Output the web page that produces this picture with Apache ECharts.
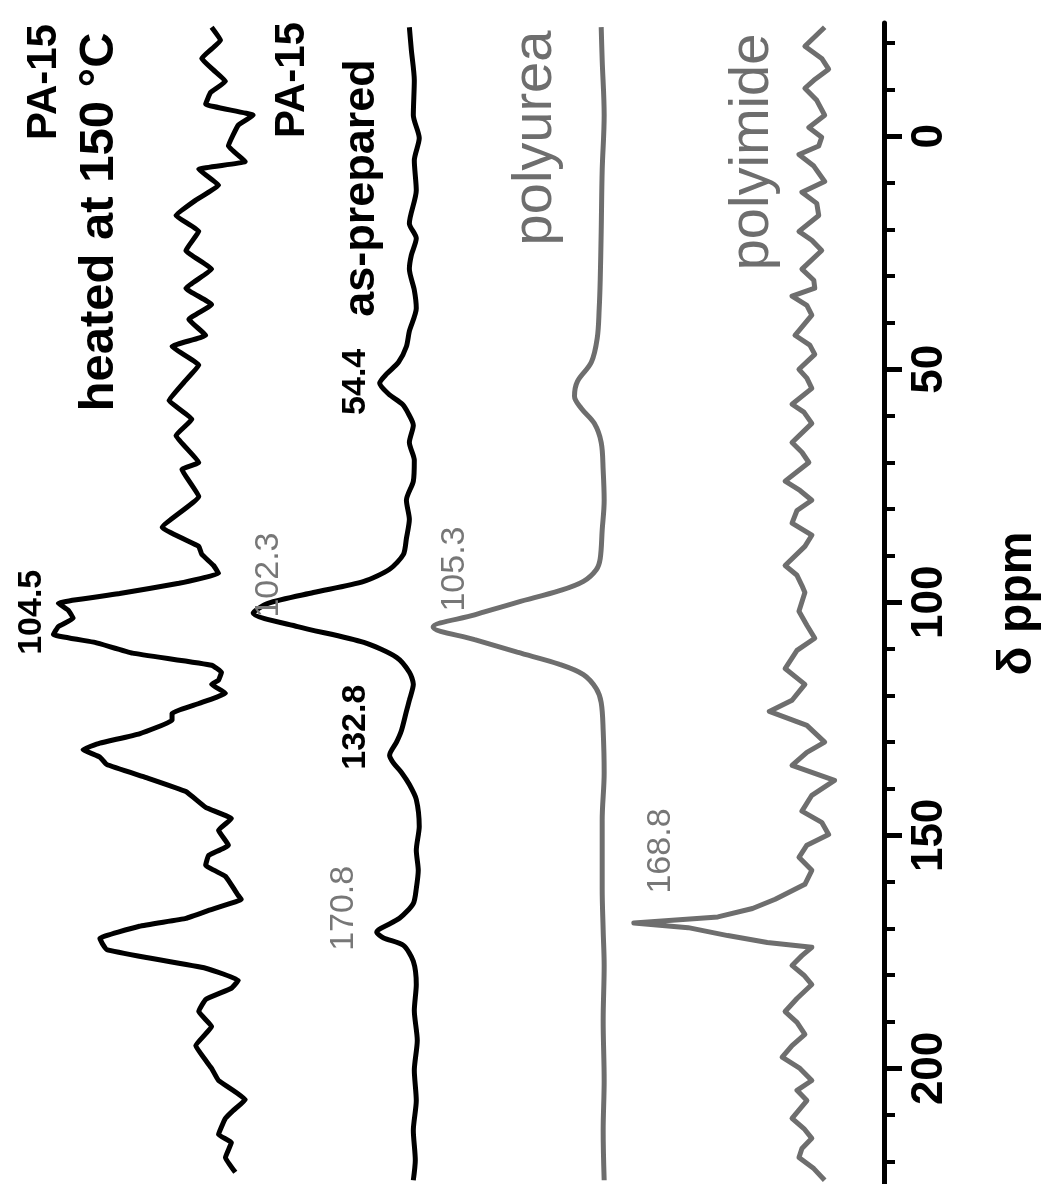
<!DOCTYPE html>
<html>
<head>
<meta charset="utf-8">
<script src="https://cdn.jsdelivr.net/npm/echarts@6/dist/echarts.min.js"></script>
<style>
  html, body { margin: 0; padding: 0; background: #fff; }
  #chart { width: 1050px; height: 1184px; }
</style>
</head>
<body>
<div id="chart"></div>
<script>
// ---- axis ----
const ppmMin = -24.3;
const ppmMax = 224.8;
const majorTicks = [0, 50, 100, 150, 200];
const minorTicks = [-20, -10, 10, 20, 30, 40, 60, 70, 80, 90, 110, 120, 130, 140, 160, 170, 180, 190, 210, 220];
const axisTitle = 'δ ppm';

// ---- trace labels ----
const traceNames = ['PA-15 heated at 150 °C', 'PA-15 as-prepared', 'polyurea', 'polyimide'];

// ---- vertical offsets (stacking) ----
const offsetHeated = 66.8;
const offsetPrepared = 47.7;
const offsetPolyurea = 28.6;
const offsetPolyimide = 7.8;

// ---- spectra: [ppm, intensity] ----
const heated = [[-23.4,1.2],[-20.6,0.3],[-16.7,2.2],[-14.2,1.0],[-11.8,-0.2],[-9.4,1.3],[-6.9,1.8],[-4.5,-3.0],[-2.4,-1.5],[2.1,-0.5],[5.4,-2.2],[7.1,2.5],[10.5,0.5],[13.7,2.8],[17.0,4.8],[20.4,2.5],[24.5,3.8],[28.5,1.2],[32.6,3.8],[36.1,1.2],[39.3,3.5],[42.7,1.8],[45.1,5.2],[49.1,2.5],[52.8,4.0],[56.7,5.5],[60.7,3.2],[64.2,4.8],[70.0,2.5],[71.5,4.2],[77.3,2.5],[83.9,6.2],[88.0,2.5],[89.7,2.2],[92.1,1.0],[93.8,0.5],[95.9,4.5],[98.1,10.5],[100.2,16.7],[101.7,15.7],[103.4,15.2],[105.2,16.7],[106.9,17.2],[108.6,13.0],[110.9,9.2],[113.5,1.2],[115.0,0.2],[116.7,0.5],[117.6,1.2],[119.5,-0.2],[121.7,2.5],[123.8,5.2],[125.3,5.2],[128.2,8.5],[130.2,12.5],[131.6,14.2],[133.2,12.5],[134.8,11.8],[137.6,7.8],[140.6,3.8],[144.0,1.8],[146.4,-0.8],[148.9,0.5],[152.1,-0.5],[154.3,1.5],[156.4,1.8],[158.8,-0.2],[162.9,-1.5],[163.7,-1.8],[166.1,1.5],[167.8,3.8],[169.5,8.5],[172.1,12.5],[173.4,12.2],[174.5,11.8],[176.2,7.8],[178.5,1.8],[181.1,-1.5],[182.8,-0.8],[185.2,1.8],[187.8,2.5],[191.0,1.2],[195.1,2.8],[200.0,1.2],[202.6,0.5],[206.7,-2.2],[209.0,-1.0],[210.7,-0.2],[214.2,0.5],[215.9,-0.8],[219.1,-0.2],[222.3,-1.2]];

const prepared = [[-23.4,0.3],[-18.5,0.1],[-12.0,-0.2],[-4.5,-0.1],[0.4,-0.7],[5.2,-0.2],[11.6,-0.4],[18.7,0.3],[21.9,-0.4],[25.5,0.1],[28.5,0.3],[33.0,-0.2],[36.9,-0.4],[41.8,0.3],[45.1,0.6],[48.5,1.4],[51.0,2.6],[53.0,3.3],[55.3,2.4],[57.5,1.0],[59.5,0.4],[62.0,-0.1],[65.7,0.3],[69.5,-0.2],[74.0,-0.1],[78.1,0.6],[82.2,0.3],[86.3,0.6],[89.7,0.9],[92.9,2.3],[95.5,4.9],[97.9,10.0],[100.2,14.6],[102.3,16.1],[105.2,11.6],[108.6,4.9],[111.8,1.6],[115.0,0.3],[117.6,-0.1],[121.0,0.3],[123.4,0.6],[127.5,1.1],[130.0,1.6],[132.8,2.3],[134.5,1.9],[136.5,1.1],[139.1,0.3],[142.3,-0.4],[148.1,-0.7],[153.2,-0.4],[157.5,-0.6],[161.4,-0.4],[164.6,-0.1],[167.8,1.3],[170.8,3.6],[172.0,2.9],[173.6,0.9],[177.0,-0.1],[182.0,-0.4],[187.6,-0.2],[194.0,-0.5],[200.4,-0.2],[206.9,-0.4],[213.3,-0.1],[219.7,-0.3],[224.0,-0.1]];

const polyurea = [[-23.4,0],[-16.3,-0.1],[-4.5,-0.3],[7.3,-0.1],[20.4,0],[30.9,0.1],[36.9,0.2],[43.3,0.4],[48.5,1.0],[52.6,2.4],[55.8,2.7],[58.4,2.0],[61.6,0.7],[65.7,0],[71.7,-0.2],[78.1,-0.3],[84.5,-0.1],[90.6,0.1],[93.0,0.5],[95.5,1.8],[97.5,4.2],[100.0,8.5],[102.7,12.8],[105.3,17.0],[108.0,12.8],[110.7,8.5],[113.3,4.2],[115.5,1.8],[118.5,0.5],[121.5,0],[127.5,-0.2],[136.5,-0.3],[146.8,-0.1],[161.4,-0.1],[170.4,-0.2],[177.9,-0.3],[189.7,-0.2],[202.6,-0.3],[213.3,-0.2],[224.0,-0.3]];

const polyimide = [[-23.4,-1.8],[-19.3,0.2],[-16.7,-1.5],[-14.4,-2.2],[-12.0,-0.7],[-10.3,0.2],[-7.7,-1.0],[-4.5,-1.8],[-1.9,-0.2],[0.2,-1.5],[2.1,-1.2],[3.9,0.8],[6.4,-0.7],[9.7,-1.8],[12.0,0.5],[14.4,-1.0],[17.0,-1.2],[20.4,0.8],[22.3,-0.5],[24.5,-1.5],[28.5,0.5],[30.9,-0.7],[32.6,-0.8],[34.3,1.5],[36.3,0.0],[38.4,-0.5],[42.7,1.2],[44.8,-0.3],[46.8,-0.8],[50.0,0.8],[51.9,0.0],[54.1,-0.5],[57.5,1.5],[59.2,0.3],[61.6,-0.5],[65.7,1.5],[67.8,0.5],[70.0,-0.2],[74.0,2.2],[76.0,0.7],[78.1,-0.5],[80.3,1.0],[83.0,1.5],[85.6,-0.5],[88.0,0.2],[92.1,2.2],[94.2,1.0],[96.4,0.5],[97.9,0.2],[101.9,0.8],[104.9,0.0],[107.7,-0.8],[110.3,1.0],[114.2,2.2],[117.6,0.2],[121.0,1.5],[123.4,3.8],[126.4,0.0],[130.0,-1.8],[132.2,0.0],[135.0,1.5],[138.2,-2.8],[141.4,-0.5],[144.8,0.5],[147.2,-1.5],[149.8,-2.2],[152.1,0.0],[154.7,0.8],[157.5,-0.5],[160.5,0.2],[163.7,3.2],[165.7,5.5],[167.5,9.0],[168.8,17.5],[169.8,12.0],[171.5,8.0],[173.0,4.0],[174.0,-0.5],[175.8,0.5],[177.9,1.5],[180.0,0.3],[182.0,-0.5],[185.0,1.0],[187.8,2.2],[190.1,1.0],[192.7,0.2],[195.1,1.5],[197.6,2.5],[200.0,0.7],[202.6,-0.5],[204.7,1.0],[206.9,0.0],[210.7,1.5],[212.9,0.3],[215.0,-0.5],[217.2,0.5],[219.1,0.8],[221.5,-0.7],[224.0,-1.8]];

// ---- peak annotations: text, offset, peak intensity, ppm, dx, dy, colour, weight ----
const peakLabels = [
  ['104.5', offsetHeated, 17.2, 104.5, -22, -11, '#000', 'bold'],
  ['102.3', offsetPrepared, 16.1, 102.3, 15, -38, '#777', 'normal'],
  ['54.4', offsetPrepared, 3.3, 54.4, -24, -8, '#000', 'bold'],
  ['132.8', offsetPrepared, 2.3, 132.8, -34, -28, '#000', 'bold'],
  ['170.8', offsetPrepared, 3.6, 170.8, -33, -24, '#777', 'normal'],
  ['105.3', offsetPolyurea, 17.0, 105.3, 22, -58, '#777', 'normal'],
  ['168.8', offsetPolyimide, 17.5, 168.8, 27, -72, '#777', 'normal']
];

const FONT = '"Liberation Sans", Arial, Helvetica, sans-serif';
const BLACK = '#000000';
const GRAY = '#6e6e6e';

function toSeries(pairs, offset) {
  return pairs.map(p => [offset + p[1], p[0]]);
}

const chart = echarts.init(document.getElementById('chart'), null, { renderer: 'canvas' });

const option = {
  animation: false,
  backgroundColor: '#fff',
  grid: { left: 0, right: 156, top: 23, bottom: 0, containLabel: false },
  xAxis: { type: 'value', min: 0, max: 89.4, inverse: true, show: false },
  yAxis: [
    {
      type: 'value', min: ppmMin, max: ppmMax, inverse: true, position: 'right',
      axisLine: { show: true, lineStyle: { color: BLACK, width: 5 } },
      axisTick: { show: true, inside: false, length: 18, customValues: majorTicks, lineStyle: { color: BLACK, width: 5 } },
      axisLabel: { show: true, customValues: majorTicks, rotate: 90, margin: 24, fontSize: 44, fontWeight: 'bold', color: BLACK, fontFamily: FONT },
      splitLine: { show: false },
      name: axisTitle, nameLocation: 'middle', nameGap: 110, nameRotate: 90,
      nameTextStyle: { fontSize: 48, fontWeight: 'bold', color: BLACK, fontFamily: FONT }
    },
    {
      type: 'value', min: ppmMin, max: ppmMax, inverse: true, position: 'right',
      axisLine: { show: false },
      axisTick: { show: true, inside: false, length: 11, customValues: minorTicks, lineStyle: { color: BLACK, width: 4 } },
      axisLabel: { show: false },
      splitLine: { show: false }
    }
  ],
  series: [
    { name: traceNames[0], type: 'line', data: toSeries(heated, offsetHeated), showSymbol: false, smooth: 0.1, lineStyle: { color: BLACK, width: 5 }, yAxisIndex: 0 },
    { name: traceNames[1], type: 'line', data: toSeries(prepared, offsetPrepared), showSymbol: false, smooth: 0.25, lineStyle: { color: BLACK, width: 5 }, yAxisIndex: 0 },
    { name: traceNames[2], type: 'line', data: toSeries(polyurea, offsetPolyurea), showSymbol: false, smooth: 0.35, lineStyle: { color: GRAY, width: 5 }, yAxisIndex: 0 },
    { name: traceNames[3], type: 'line', data: toSeries(polyimide, offsetPolyimide), showSymbol: false, smooth: false, lineStyle: { color: GRAY, width: 5, join: 'round' }, yAxisIndex: 0 }
  ]
};
chart.setOption(option);

function rotText(text, x, y, size, weight, color) {
  return {
    type: 'text', x: x, y: y, rotation: Math.PI / 2,
    style: { text: text, font: weight + ' ' + size + 'px ' + FONT, fill: color, align: 'center', verticalAlign: 'middle' },
    z: 10
  };
}

const graphics = [];
// trace titles
graphics.push(rotText('PA-15', 44, 82, 42, 'bold', BLACK));
graphics.push(rotText('heated at 150 °C', 99, 222, 49, 'bold', BLACK));
graphics.push(rotText('PA-15', 292, 80, 42, 'bold', BLACK));
graphics.push(rotText('as-prepared', 362, 188, 45, 'bold', BLACK));
graphics.push(rotText('polyurea', 536, 138, 56, 'normal', GRAY));
graphics.push(rotText('polyimide', 753, 152, 56, 'normal', GRAY));
// peak labels anchored to data
peakLabels.forEach(l => {
  const p = chart.convertToPixel({ xAxisIndex: 0, yAxisIndex: 0 }, [l[1] + l[2], l[3]]);
  graphics.push(rotText(l[0], p[0] + l[4], p[1] + l[5], 34, l[7], l[6]));
});
chart.setOption({ graphic: graphics });
</script>
</body>
</html>
